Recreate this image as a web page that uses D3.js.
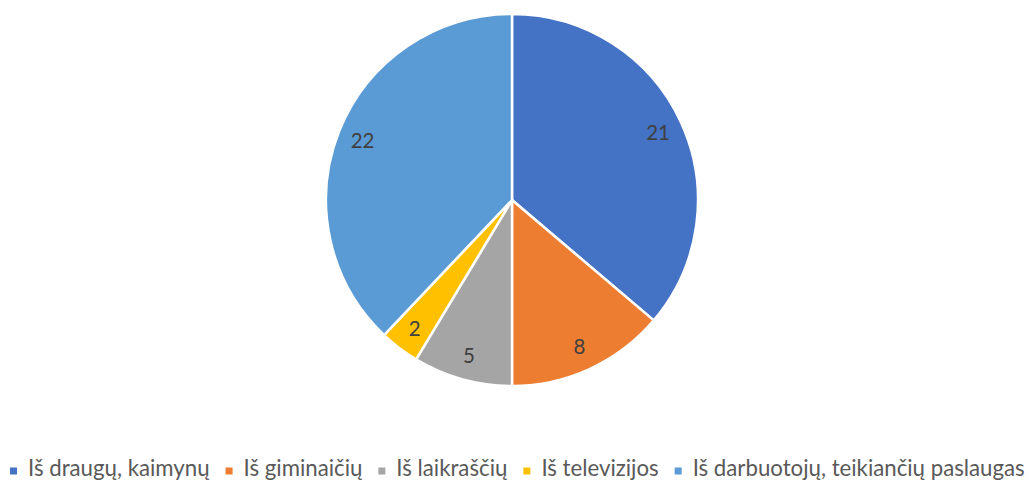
<!DOCTYPE html>
<html>
<head>
<meta charset="utf-8">
<script src="https://cdn.jsdelivr.net/npm/d3@7"></script>
<style>
  html, body { margin: 0; padding: 0; background: #fff; }
  svg { display: block; }
</style>
</head>
<body>
<svg id="chart" width="1029" height="480"></svg>
<script>
const categories = ["Iš draugų, kaimynų", "Iš giminaičių", "Iš laikraščių", "Iš televizijos", "Iš darbuotojų, teikiančių paslaugas"];
const values = [21, 8, 5, 2, 22];
const colors = ["#4472C4", "#ED7D31", "#A5A5A5", "#FFC000", "#5B9BD5"];

const W = 1029, H = 480;
const cx = 512, cy = 200, R = 186;
const svg = d3.select("#chart");
const FONT = "Lato, 'Open Sans', sans-serif";

const data = categories.map((c, i) => ({ name: c, value: values[i], color: colors[i] }));
const pie = d3.pie().sort(null).value(d => d.value);
const arcs = pie(data);
const arc = d3.arc().innerRadius(0).outerRadius(R);
const labelArc = d3.arc().innerRadius(R * 0.865).outerRadius(R * 0.865);

const g = svg.append("g").attr("transform", `translate(${cx},${cy})`);
g.selectAll("path.slice").data(arcs).join("path")
  .attr("class", "slice")
  .attr("d", arc)
  .attr("fill", d => d.data.color)
  .attr("stroke", "#fff")
  .attr("stroke-width", 2.5)
  .attr("stroke-linejoin", "round");

g.selectAll("text.lbl").data(arcs).join("text")
  .attr("class", "lbl")
  .attr("transform", d => `translate(${labelArc.centroid(d)})`)
  .attr("text-anchor", "middle")
  .attr("dominant-baseline", "central")
  .attr("font-family", FONT)
  .attr("font-size", 20.5)
  .attr("fill", "#404040")
  .text(d => d.data.value);

// Legend
const baseY = 476;
const sq = 7, sqGap = 11, itemGap = 16;
const targetLeft = 10, targetRight = 1025;
const leg = svg.append("g");
const items = leg.selectAll("g.item").data(data).join("g").attr("class", "item");
items.append("rect").attr("width", sq).attr("height", sq).attr("y", -sq / 2).attr("fill", d => d.color);
const texts = items.append("text")
  .attr("x", sq + sqGap)
  .attr("y", baseY - 471)
  .attr("font-family", FONT)
  .attr("fill", "#595959")
  .text(d => d.name);

function measure(fs) {
  texts.attr("font-size", fs);
  const w = [];
  texts.each(function () { w.push(this.getComputedTextLength()); });
  return w;
}
const avail = (targetRight - targetLeft) - 5 * (sq + sqGap) - 4 * itemGap;
let fs = 19;
let widths = measure(fs);
fs = fs * avail / d3.sum(widths);
widths = measure(fs);
let x = targetLeft;
const pos = widths.map(w => { const p = x; x += sq + sqGap + w + itemGap; return p; });
items.attr("transform", (d, i) => `translate(${pos[i]},471)`);
</script>
</body>
</html>
